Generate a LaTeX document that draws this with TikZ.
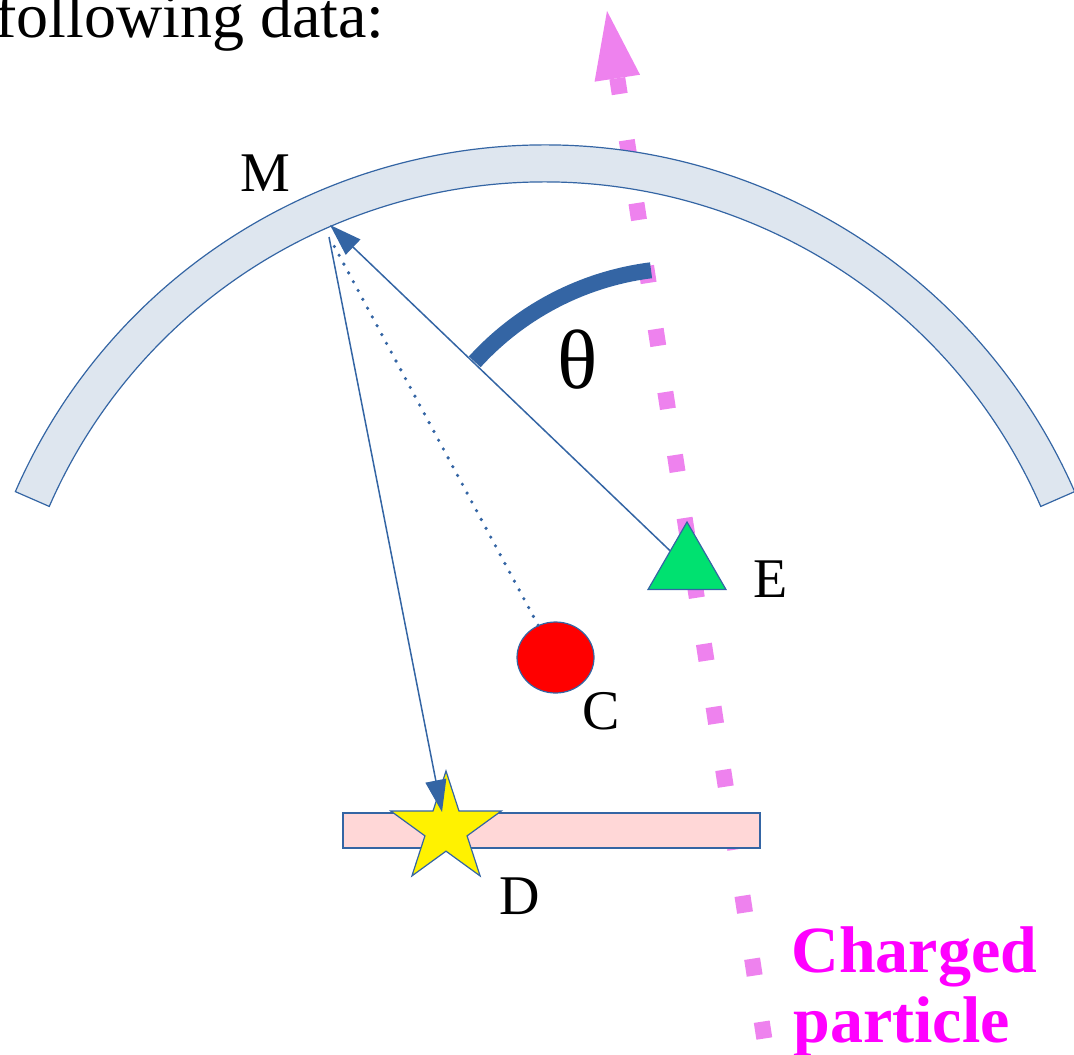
\documentclass[tikz,border=0pt]{standalone}
\usepackage{fontspec}
\setmainfont{Liberation Serif}
\usetikzlibrary{arrows.meta,shapes.geometric,calc}
\definecolor{lblue}{RGB}{52,101,164}
\definecolor{bandfill}{RGB}{222,230,239}
\definecolor{violetc}{RGB}{238,130,238}
\definecolor{egreen}{RGB}{0,225,112}
\definecolor{pinkfill}{RGB}{255,215,215}
\definecolor{magentac}{RGB}{255,0,255}
\begin{document}
\begin{tikzpicture}[x=0.5pt,y=0.5pt,yscale=-1,
  thinblue/.style={draw=lblue,line width=0.6pt},
  conn/.style={lblue,line width=0.75pt,-{Triangle[length=16pt,width=10.5pt]}},
  lbl/.style={inner sep=0pt,font=\fontsize{28pt}{34pt}\selectfont},
  particle/.style={violetc,line width=8pt,dash pattern=on 8.5pt off 23.35pt,
    -{Triangle[length=34pt,width=23pt,line width=0pt]}},
  plabel/.style={inner sep=0pt,anchor=base west,text=magentac,
    font=\bfseries\fontsize{33pt}{35pt}\selectfont}]
\useasboundingbox (0,0) rectangle (1074,1054);
\clip (0,0) rectangle (1074,1054);
% charged particle track
\coordinate (pstart) at (764.3,1038.5);
\coordinate (ptip) at (607,11);
\draw[particle] (pstart) -- (ptip);
% detector band
\coordinate (bc) at (545,723);
\path[thinblue,fill=bandfill] ($(bc)+(203.6:578)$) arc[start angle=203.6,end angle=336.4,radius=578]
  -- ($(bc)+(336.4:541)$) arc[start angle=336.4,end angle=203.6,radius=541] -- cycle;
% theta arc
\coordinate (tc) at (687,555);
\draw[lblue,line width=8pt] ($(tc)+(222.3:287)$) arc[start angle=222.3,end angle=262.8,radius=287];
% title text
\node[anchor=base east,inner sep=0pt,font=\fontsize{32pt}{38pt}\selectfont] (title) at (385,38) {following data:};
% objects
\node[ellipse,thinblue,fill=red,minimum width=38.5pt,minimum height=35.5pt,inner sep=0pt] (C) at (555.5,657.5) {};
\node[regular polygon,regular polygon sides=3,thinblue,fill=egreen,minimum size=45pt,inner sep=0pt] (E) at (687,567) {};
\node[rectangle,thinblue,fill=pinkfill,minimum width=208.5pt,minimum height=17.5pt,inner sep=0pt] (plate) at (551.5,830.5) {};
\node[star,star points=5,star point ratio=2.618,minimum size=58pt,inner sep=0pt,thinblue,fill=yellow] (D) at (446,829) {};
% points near M
\coordinate (Mtip) at (330,225);
\coordinate (Mfoot) at (329,237);
\coordinate (Mdot) at (332,242);
\coordinate (Dtip) at (442,812);
% connectors
\draw[conn] (E) -- (Mtip);
\draw[conn] (Mfoot) -- (Dtip);
\draw[lblue,line width=1.8pt,line cap=round,dash pattern=on 0pt off 5pt] (C) -- (Mdot);
% labels
\node[lbl] (Mlab) at (265,173) {M};
\node[lbl] (Elab) at (771,579) {E};
\node[lbl] (Clab) at (601,711) {C};
\node[lbl] (Dlab) at (520,896) {D};
\node[inner sep=0pt,font=\fontsize{42pt}{48pt}\selectfont] (theta) at (578,360) {θ};
\node[plabel] (pl1) at (791,972) {Charged};
\node[plabel] (pl2) at (793,1042) {particle};
\end{tikzpicture}
\end{document}
